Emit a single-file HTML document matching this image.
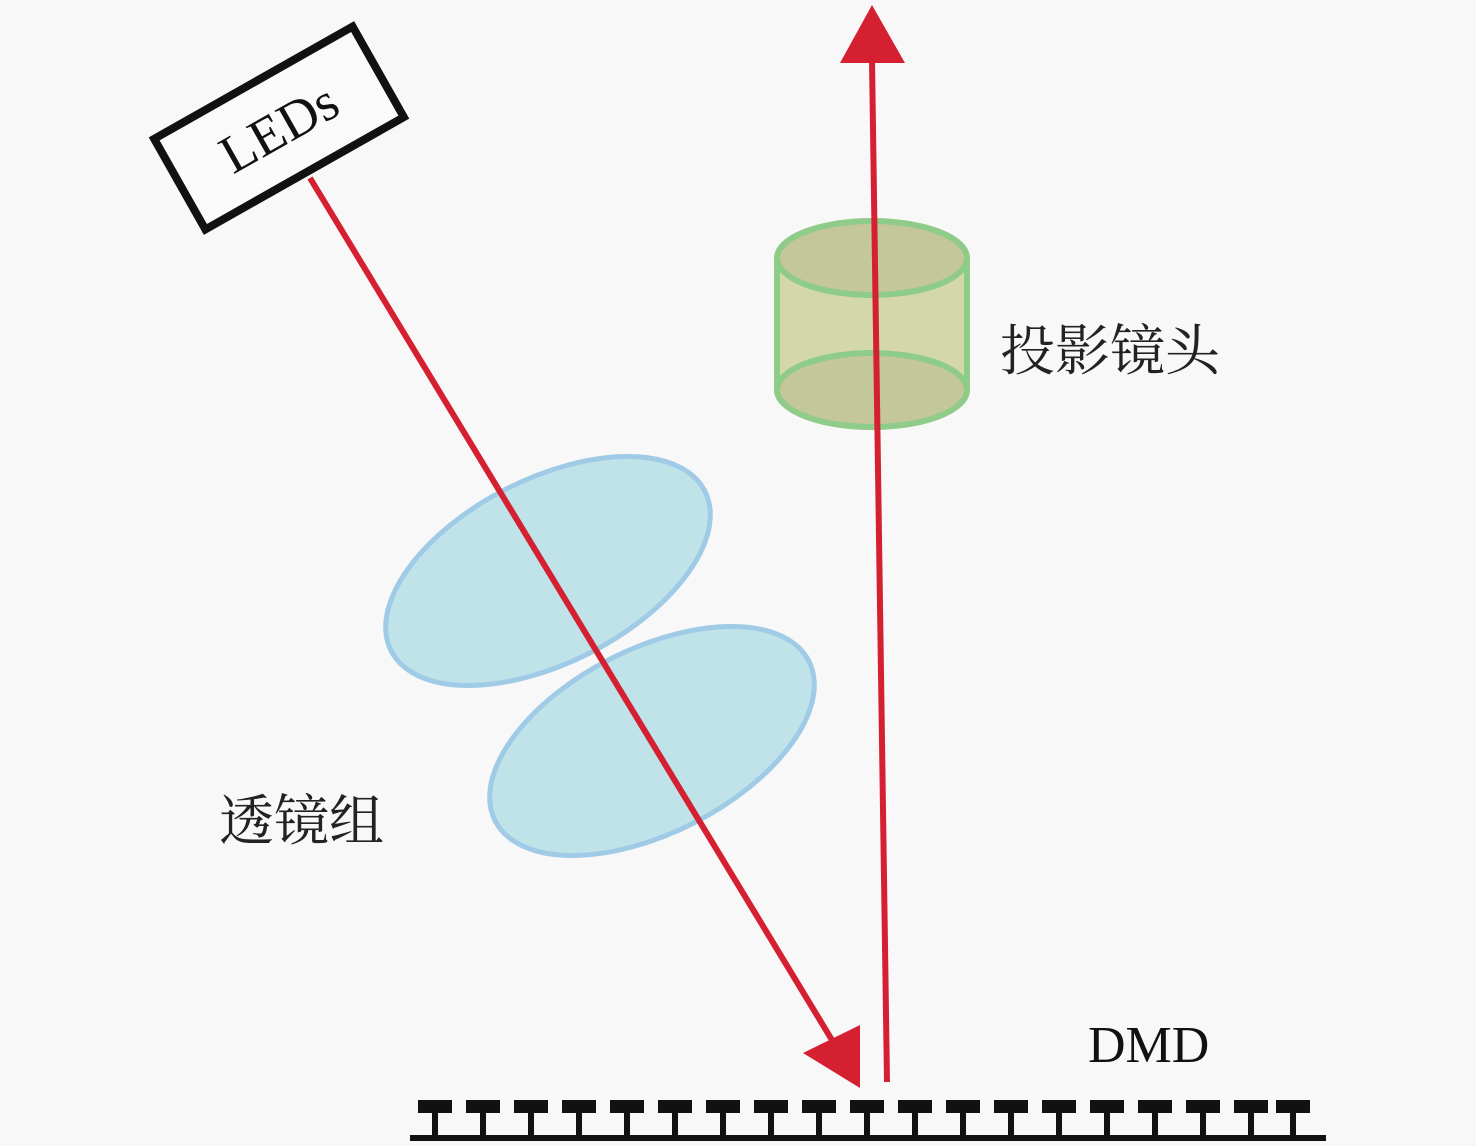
<!DOCTYPE html>
<html><head><meta charset="utf-8"><style>
html,body{margin:0;padding:0;background:#f8f8f8;}
svg{display:block}
</style></head><body>
<svg width="1476" height="1146" viewBox="0 0 1476 1146" xmlns="http://www.w3.org/2000/svg">
<rect width="1476" height="1146" fill="#f8f8f8"/>
<!-- lenses -->
<ellipse cx="548" cy="571" rx="176" ry="92" transform="rotate(-27 548 571)" fill="#bfe3e9" stroke="#9fcbe6" stroke-width="5"/>
<ellipse cx="652" cy="741" rx="176" ry="92" transform="rotate(-27 652 741)" fill="#bfe3e9" stroke="#9fcbe6" stroke-width="5"/>
<!-- cylinder -->
<rect x="776" y="258" width="192" height="132" fill="#d3d7a9"/>
<ellipse cx="872" cy="390" rx="95" ry="37" fill="#c3c79a" stroke="#8fcc8a" stroke-width="6"/>
<ellipse cx="872" cy="258" rx="95" ry="37" fill="#c3c79a" stroke="#8fcc8a" stroke-width="6"/>
<line x1="777" y1="258" x2="777" y2="390" stroke="#8fcc8a" stroke-width="6"/>
<line x1="967" y1="258" x2="967" y2="390" stroke="#8fcc8a" stroke-width="6"/>
<!-- LEDs box -->
<g transform="translate(279 128) rotate(-29.5)">
<rect x="-114" y="-52" width="228" height="104" fill="#fafafa" stroke="#111" stroke-width="8"/>
<text x="0" y="18" text-anchor="middle" font-family="Liberation Serif, serif" font-size="54" fill="#111">LEDs</text>
</g>
<!-- rays -->
<line x1="310" y1="178" x2="835" y2="1045" stroke="#d42030" stroke-width="6"/>
<polygon points="860,1025 803,1053 860,1088" fill="#d42030"/>
<line x1="887" y1="1082" x2="872" y2="60" stroke="#d42030" stroke-width="6"/>
<polygon points="872,5 840,63 905,63" fill="#d42030"/>
<!-- labels -->
<text x="1000" y="370" font-family="Liberation Serif, 'Noto Serif CJK SC', serif" font-size="55" fill="#222">投影镜头</text>
<text x="219" y="840" font-family="Liberation Serif, 'Noto Serif CJK SC', serif" font-size="55" fill="#222">透镜组</text>
<text x="1088" y="1062" font-family="Liberation Serif, serif" font-size="52" fill="#111">DMD</text>
<!-- DMD -->
<rect x="410" y="1135" width="916" height="6" fill="#111"/>
<g fill="#111">
<rect x="418" y="1100" width="34" height="13"/><rect x="432" y="1110" width="6" height="26"/>
<rect x="466" y="1100" width="34" height="13"/><rect x="480" y="1110" width="6" height="26"/>
<rect x="514" y="1100" width="34" height="13"/><rect x="528" y="1110" width="6" height="26"/>
<rect x="562" y="1100" width="34" height="13"/><rect x="576" y="1110" width="6" height="26"/>
<rect x="610" y="1100" width="34" height="13"/><rect x="624" y="1110" width="6" height="26"/>
<rect x="658" y="1100" width="34" height="13"/><rect x="672" y="1110" width="6" height="26"/>
<rect x="706" y="1100" width="34" height="13"/><rect x="720" y="1110" width="6" height="26"/>
<rect x="754" y="1100" width="34" height="13"/><rect x="768" y="1110" width="6" height="26"/>
<rect x="802" y="1100" width="34" height="13"/><rect x="816" y="1110" width="6" height="26"/>
<rect x="850" y="1100" width="34" height="13"/><rect x="864" y="1110" width="6" height="26"/>
<rect x="898" y="1100" width="34" height="13"/><rect x="912" y="1110" width="6" height="26"/>
<rect x="946" y="1100" width="34" height="13"/><rect x="960" y="1110" width="6" height="26"/>
<rect x="994" y="1100" width="34" height="13"/><rect x="1008" y="1110" width="6" height="26"/>
<rect x="1042" y="1100" width="34" height="13"/><rect x="1056" y="1110" width="6" height="26"/>
<rect x="1090" y="1100" width="34" height="13"/><rect x="1104" y="1110" width="6" height="26"/>
<rect x="1138" y="1100" width="34" height="13"/><rect x="1152" y="1110" width="6" height="26"/>
<rect x="1186" y="1100" width="34" height="13"/><rect x="1200" y="1110" width="6" height="26"/>
<rect x="1234" y="1100" width="34" height="13"/><rect x="1248" y="1110" width="6" height="26"/>
<rect x="1276" y="1100" width="34" height="13"/><rect x="1290" y="1110" width="6" height="26"/>
</g>
</svg>
</body></html>
